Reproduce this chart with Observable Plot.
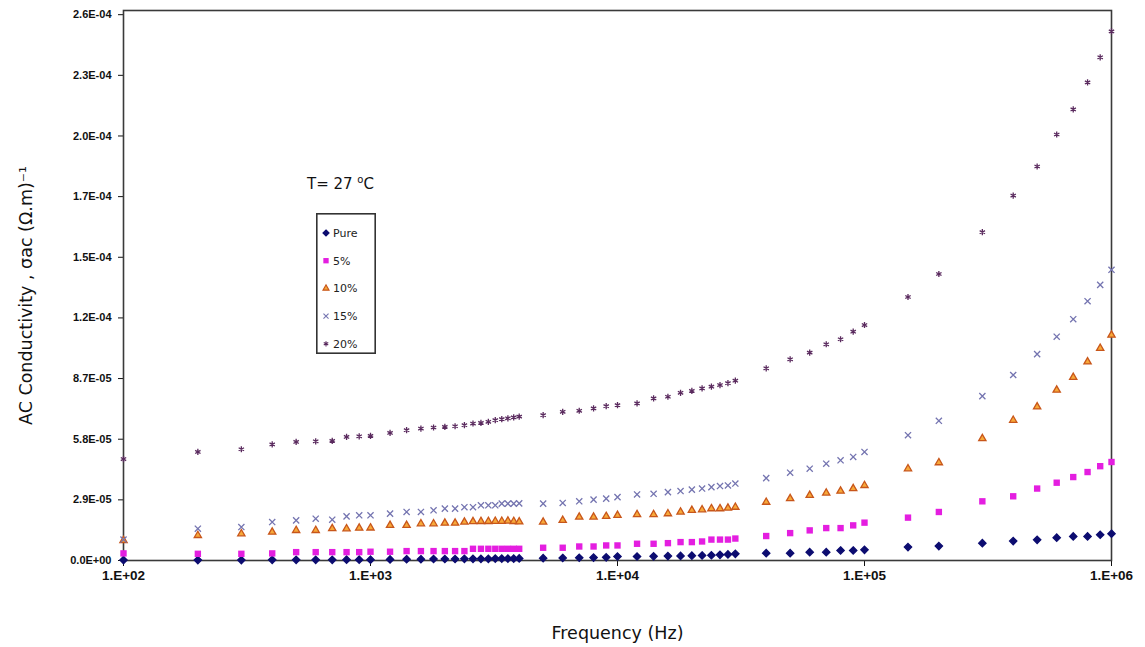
<!DOCTYPE html>
<html><head><meta charset="utf-8">
<script src="https://cdn.jsdelivr.net/npm/d3@7"></script>
<script src="https://cdn.jsdelivr.net/npm/@observablehq/plot@0.6"></script>
<style>
body{margin:0;background:#fff;font-family:"DejaVu Sans","Liberation Sans",Arial,sans-serif;}
#wrap{position:relative;width:1145px;height:647px;}
#legend{position:absolute;left:316px;top:213px;}
#temp{position:absolute;left:307px;top:174px;font-size:15px;color:#111;white-space:nowrap;}
</style>
</head><body>
<div id="wrap"><div id="chart"></div><div id="temp">T= 27 <sup style="font-size:10px">o</sup>C</div><div id="legend"></div></div>
<script>
// Frequencies (Hz)
const freqs = [100,200,300,400,500,600,700,800,900,1000,
 1200,1400,1600,1800,2000,2200,2400,2600,2800,3000,3200,3400,3600,3800,4000,
 5000,6000,7000,8000,9000,
 10000,12000,14000,16000,18000,20000,22000,24000,26000,28000,30000,
 40000,50000,60000,70000,80000,90000,100000,
 150000,200000,300000,400000,500000,600000,700000,800000,900000,1000000];
// AC conductivity, in units of 1e-5 (Ω.m)^-1
const UNIT = 1e-5;
const pure = [0.02,0.02,0.02,0.03,0.03,0.03,0.03,0.04,0.04,0.04,
 0.05,0.06,0.06,0.07,0.07,0.07,0.08,0.08,0.08,0.08,0.09,0.09,0.09,0.09,0.10,
 0.11,0.12,0.13,0.14,0.15,
 0.19,0.19,0.20,0.21,0.22,0.23,0.24,0.25,0.27,0.29,0.32,
 0.35,0.35,0.40,0.40,0.48,0.48,0.51,
 0.64,0.69,0.83,0.93,0.99,1.09,1.15,1.15,1.23,1.28];
const pct5 = [0.34,0.32,0.32,0.34,0.40,0.40,0.40,0.40,0.40,0.42,
 0.42,0.45,0.45,0.45,0.45,0.45,0.45,0.56,0.56,0.56,0.56,0.56,0.56,0.56,0.56,
 0.61,0.61,0.67,0.67,0.72,
 0.72,0.80,0.80,0.83,0.88,0.88,0.91,1.00,1.00,1.00,1.05,
 1.17,1.31,1.44,1.55,1.55,1.68,1.81,
 2.05,2.32,2.83,3.07,3.44,3.72,3.99,4.23,4.51,4.71];
const pct10 = [0.96,1.20,1.28,1.36,1.44,1.44,1.53,1.52,1.55,1.56,
 1.68,1.68,1.76,1.76,1.79,1.79,1.84,1.86,1.87,1.87,1.88,1.88,1.89,1.87,1.85,
 1.84,1.92,2.08,2.08,2.11,
 2.16,2.20,2.20,2.24,2.32,2.40,2.43,2.48,2.48,2.51,2.55,
 2.79,2.96,3.12,3.23,3.32,3.44,3.59,
 4.39,4.68,5.83,6.71,7.35,8.15,8.76,9.50,10.15,10.78];
const pct15 = [1.00,1.52,1.60,1.84,1.92,2.00,1.95,2.11,2.16,2.16,
 2.24,2.32,2.32,2.40,2.48,2.48,2.55,2.55,2.64,2.64,2.64,2.72,2.72,2.72,2.73,
 2.72,2.75,2.83,2.91,2.96,
 3.03,3.16,3.19,3.27,3.32,3.39,3.44,3.51,3.56,3.59,3.68,
 3.94,4.20,4.39,4.63,4.79,4.95,5.19,
 5.99,6.68,7.86,8.87,9.87,10.70,11.54,12.40,13.18,13.90];
const pct20 = [4.85,5.19,5.32,5.55,5.67,5.70,5.72,5.91,5.94,5.96,
 6.10,6.23,6.31,6.36,6.39,6.42,6.47,6.55,6.58,6.63,6.71,6.76,6.80,6.84,6.88,
 6.95,7.11,7.16,7.27,7.38,
 7.43,7.51,7.75,7.83,8.02,8.11,8.23,8.31,8.39,8.48,8.60,
 9.19,9.62,9.94,10.34,10.58,10.94,11.26,
 12.60,13.70,15.70,17.45,18.84,20.37,21.57,22.86,24.06,25.30];

const seriesNames = ["Pure","5%","10%","15%","20%"];
const seriesValues = [pure,pct5,pct10,pct15,pct20];
const yTickValues = [0,2.9e-5,5.8e-5,8.7e-5,1.16e-4,1.45e-4,1.74e-4,2.03e-4,2.32e-4,2.61e-4];
const yTickLabels = ["0.0E+00","2.9E-05","5.8E-05","8.7E-05","1.2E-04","1.5E-04","1.7E-04","2.0E-04","2.3E-04","2.6E-04"];
const xTickValues = [1e2,1e3,1e4,1e5,1e6];
const xTickLabels = ["1.E+02","1.E+03","1.E+04","1.E+05","1.E+06"];

const styles = {
  "Pure": {symbol:"diamond2", fill:"#0c0c70", stroke:"#0c0c70", r:3.3},
  "5%":   {symbol:"square", fill:"#e41ee0", stroke:null, r:3.6},
  "10%":  {symbol:"triangle", fill:"#f7a93a", stroke:"#c8561a", r:2.7},
  "15%":  {symbol:"times", fill:"none", stroke:"#7474b0", r:2.9},
  "20%":  {symbol:"asterisk", fill:"none", stroke:"#5a2a5e", r:2.9}
};

const rows = [];
seriesNames.forEach((s,k)=>{
  freqs.forEach((f,i)=>rows.push({series:s, freq:f, value:seriesValues[k][i]*UNIT}));
});

const marks = [];
for (const s of seriesNames) {
  const st = styles[s];
  const opts = {x:"freq", y:"value", symbol:()=>st.symbol, r:st.r,
    fill: st.fill ?? "none", stroke: st.stroke ?? "none", strokeWidth:1.3};
  marks.push(Plot.dot(rows.filter(d=>d.series===s), opts));
}

const yFmt = (d)=>{const i=yTickValues.findIndex(v=>Math.abs(v-d)<1e-9); return i>=0?yTickLabels[i]:"";};
const xFmt = (d)=>xTickLabels[xTickValues.indexOf(d)] ?? "";

const chart = Plot.plot({
  width:1145, height:647,
  marginLeft:123, marginRight:34, marginTop:10, marginBottom:87,
  style:{fontFamily:"Liberation Sans, Arial, sans-serif", background:"#fff", color:"#111"},
  symbol:{type:"identity"},
  x:{type:"log", domain:[100,1e6], ticks:xTickValues, tickFormat:xFmt, label:null},
  y:{domain:[0,2.63e-4], ticks:yTickValues, label:null, tickFormat:yFmt},
  marks:[
    Plot.axisY({ticks:yTickValues, tickSize:5, tickPadding:7, fontSize:11, fontWeight:"bold",
      tickFormat:yFmt,
      label:"AC Conductivity , σac (Ω.m)\u207B\u00B9", labelAnchor:"center", labelArrow:"none", labelOffset:104}),
    Plot.axisX({ticks:xTickValues, tickSize:6, tickPadding:4, fontSize:13.5, fontWeight:"bold",
      tickFormat:xFmt,
      label:"Frequency (Hz)", labelAnchor:"center", labelArrow:"none", labelOffset:78}),
    Plot.frame({stroke:"#3a3a3a", strokeWidth:1.6}),
    ...marks
  ]
});
chart.querySelectorAll("g[aria-label='y-axis label'], g[aria-label='x-axis label']").forEach(g=>{
  g.setAttribute("font-size","17.5"); g.setAttribute("font-weight","normal");
  g.setAttribute("font-family","DejaVu Sans, sans-serif");
  g.querySelectorAll("text").forEach(t=>{t.setAttribute("font-size","17.5");});
});
const yl = chart.querySelector("g[aria-label='y-axis label']");
if (yl) { const tr = yl.getAttribute("transform") || ""; yl.setAttribute("transform", "translate(0,10) " + tr); }
document.getElementById("chart").appendChild(chart);

// Legend
const lw = 60, lh = 141;
const leg = d3.select("#legend").append("svg").attr("width",lw).attr("height",lh)
  .style("font-family","DejaVu Sans, sans-serif");
leg.append("rect").attr("x",0.8).attr("y",0.8).attr("width",lw-1.6).attr("height",lh-1.6)
  .attr("fill","#fff").attr("stroke","#333").attr("stroke-width",1.6);
const symMap = {diamond2:d3.symbolDiamond2, square:d3.symbolSquare, triangle:d3.symbolTriangle, times:d3.symbolTimes, asterisk:d3.symbolAsterisk};
seriesNames.forEach((s,i)=>{
  const st = styles[s];
  const y = 20 + i*27.7;
  leg.append("path").attr("transform",`translate(10,${y})`)
    .attr("d", d3.symbol(symMap[st.symbol], Math.PI*st.r*st.r*0.7)())
    .attr("fill", st.fill ?? "none").attr("stroke", st.stroke ?? "none").attr("stroke-width",1.1);
  leg.append("text").attr("x",17).attr("y",y).attr("dy","0.35em").attr("font-size",11).attr("fill","#222").text(s);
});
</script>
</body></html>
